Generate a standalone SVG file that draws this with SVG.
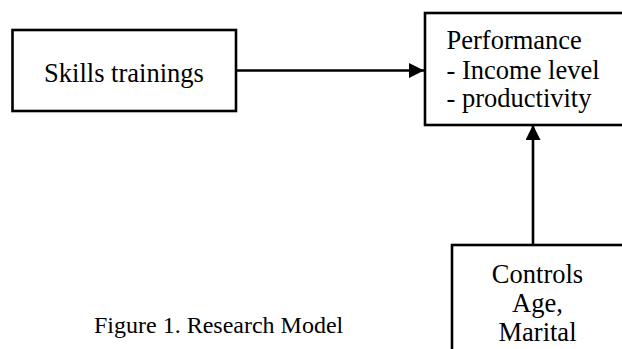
<svg xmlns="http://www.w3.org/2000/svg" width="622" height="349" viewBox="0 0 622 349">
<style>
.box{fill:#fff;stroke:#000;stroke-width:2.6}
.t{font-family:"Liberation Serif","Times New Roman",serif;font-size:26.5px;fill:#000}
.cap{font-family:"Liberation Serif","Times New Roman",serif;font-size:24px;fill:#000}
.conn{stroke:#000;stroke-width:2.6;fill:none}
</style>
<defs>
<marker id="ah" markerUnits="userSpaceOnUse" markerWidth="16" markerHeight="16" viewBox="0 0 16 16" refX="15" refY="7.5" orient="auto">
<path d="M0,0 L15,7.5 L0,15 Z" fill="#000"/>
</marker>
</defs>
<rect width="622" height="349" fill="#fff"/>
<g id="connectors">
<line class="conn" x1="236" y1="70.5" x2="424" y2="70.5" marker-end="url(#ah)"/>
<line class="conn" x1="533" y1="245" x2="533" y2="125" marker-end="url(#ah)"/>
</g>
<g id="skills">
<rect class="box" x="12.5" y="30" width="223.5" height="81"/>
<text class="t" x="124" y="82" text-anchor="middle">Skills trainings</text>
</g>
<g id="performance">
<rect class="box" x="425" y="13" width="220" height="112"/>
<text class="t" x="446.5" y="48.5">Performance</text>
<text class="t" x="446.5" y="79">- Income level</text>
<text class="t" x="446.5" y="107">- productivity</text>
</g>
<g id="controls">
<rect class="box" x="452" y="245" width="200" height="130"/>
<text class="t" x="537.5" y="282.5" text-anchor="middle">Controls</text>
<text class="t" x="537.5" y="311.5" text-anchor="middle">Age,</text>
<text class="t" x="537.5" y="341" text-anchor="middle">Marital</text>
</g>
<g id="caption">
<text class="cap" x="94" y="332.5">Figure 1. Research Model</text>
</g>
</svg>
